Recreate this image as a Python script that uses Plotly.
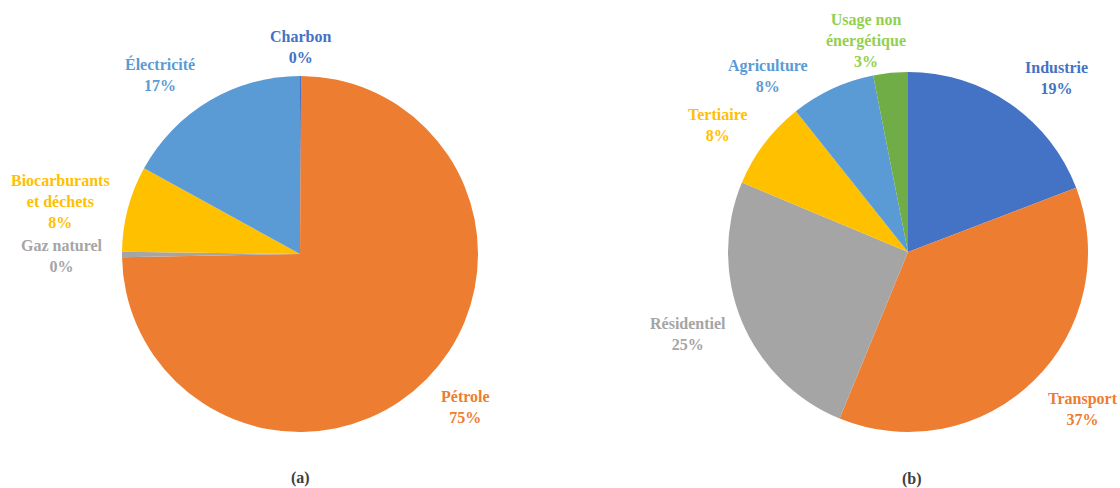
import plotly.graph_objs as go

W, H = 1120, 488

# (a) sources
labels_a = ["Charbon", "Pétrole", "Gaz naturel", "Biocarburants<br>et déchets", "Électricité"]
values_a = [0.1, 74.6, 0.5, 7.8, 17.0]
colors_a = ["#4472C4", "#ED7D31", "#A5A5A5", "#FFC000", "#5B9BD5"]
text_colors_a = ["#4472C4", "#ED7D31", "#A5A5A5", "#FFC000", "#5B9BD5"]

# (b) secteurs
labels_b = ["Industrie", "Transport", "Résidentiel", "Tertiaire", "Agriculture", "Usage non<br>énergétique"]
values_b = [19.2, 37.0, 25.1, 8.0, 7.6, 3.1]
colors_b = ["#4472C4", "#ED7D31", "#A5A5A5", "#FFC000", "#5B9BD5", "#70AD47"]
text_colors_b = ["#4472C4", "#ED7D31", "#A5A5A5", "#FFC000", "#5B9BD5", "#92D050"]

captions = ["(a)", "(b)"]

# label centres in pixels (x, y from top)
label_pos_a = [(300, 47), (465, 407), (62, 256), (60, 201), (160, 74)]
label_pos_b = [(1056, 78), (1083, 409), (688, 334), (718, 125), (768, 76), (866, 41)]
caption_pos = [(300, 478), (912, 479)]


def domain(cx, cy, r):
    return dict(x=[(cx - r) / W, (cx + r) / W], y=[1 - (cy + r) / H, 1 - (cy - r) / H])


fig = go.Figure()
fig.add_trace(go.Pie(labels=labels_a, values=values_a, marker=dict(colors=colors_a, line=dict(width=0)),
                     sort=False, direction="clockwise", rotation=0, textinfo="none",
                     domain=domain(300, 254, 178), showlegend=False))
fig.add_trace(go.Pie(labels=labels_b, values=values_b, marker=dict(colors=colors_b, line=dict(width=0)),
                     sort=False, direction="clockwise", rotation=0, textinfo="none",
                     domain=domain(908, 252, 180), showlegend=False))

font = "Liberation Serif, Times New Roman, serif"
annotations = []
for labs, vals, cols, pos in [(labels_a, values_a, text_colors_a, label_pos_a),
                              (labels_b, values_b, text_colors_b, label_pos_b)]:
    total = sum(vals)
    for lab, v, c, (px, py) in zip(labs, vals, cols, pos):
        pct = int(v / total * 100 + 0.5) if v >= 1 else 0
        annotations.append(dict(text=f"<b>{lab}<br>{pct}%</b>", x=px / W, y=1 - py / H,
                                xref="paper", yref="paper", showarrow=False,
                                xanchor="center", yanchor="middle",
                                font=dict(family=font, size=16, color=c)))
for cap, (px, py) in zip(captions, caption_pos):
    annotations.append(dict(text=f"<b>{cap}</b>", x=px / W, y=1 - py / H, xref="paper", yref="paper",
                            showarrow=False, xanchor="center", yanchor="middle",
                            font=dict(family=font, size=16, color="#404040")))

fig.update_layout(width=W, height=H, margin=dict(l=0, r=0, t=0, b=0),
                  paper_bgcolor="white", plot_bgcolor="white", annotations=annotations)
# drop the default page margin so the figure sits at the window's corner
fig.write_html("out.html", config={"displayModeBar": False},
               post_script="document.body.style.margin='0';")
